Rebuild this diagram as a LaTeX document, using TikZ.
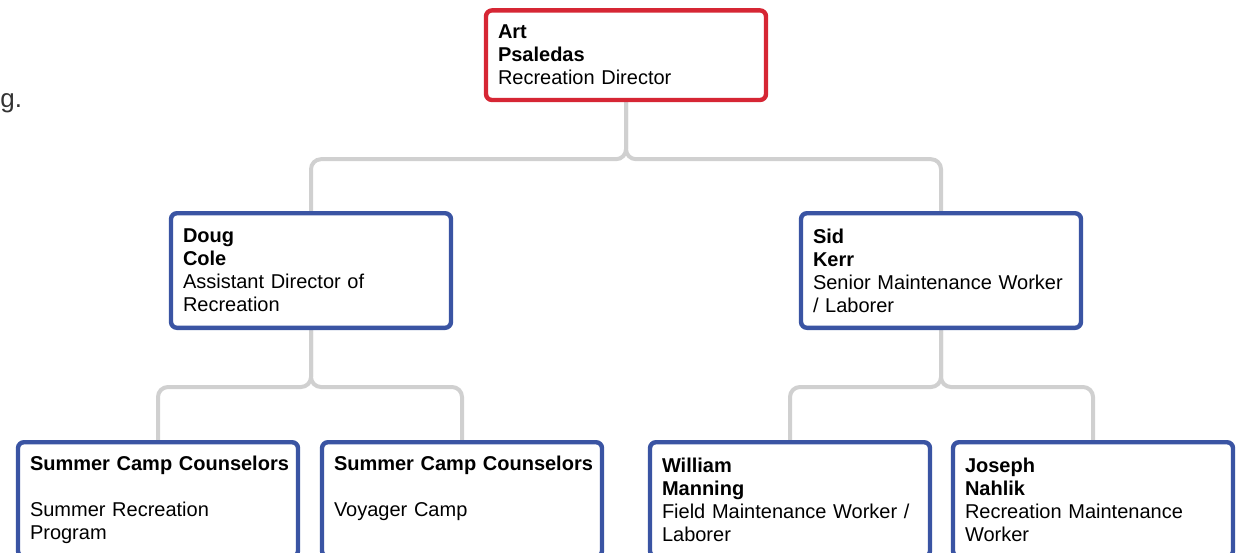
\documentclass[tikz,border=0pt]{standalone}
\usepackage{fontspec}
\setmainfont{Liberation Sans}
\usetikzlibrary{backgrounds}
\definecolor{headRed}{RGB}{214,38,52}
\definecolor{staffBlue}{RGB}{58,84,163}
\definecolor{lineGray}{RGB}{208,208,208}
\definecolor{pageText}{RGB}{51,51,51}

\begin{document}
\begin{tikzpicture}[x=0.5pt, y=-0.5pt,
    box/.style={draw=staffBlue, line width=2.2pt, rounded corners=3pt, fill=white,
        minimum width=140pt, minimum height=57.3pt, text width=128pt, align=left,
        inner sep=0pt, anchor=north, font=\fontsize{10}{11.5}\selectfont},
    headbox/.style={box, draw=headRed, minimum height=44.8pt},
    conn/.style={draw=lineGray, line width=2pt, rounded corners=5pt}]
    \useasboundingbox (0,0) rectangle (1240,552);

    % cut-off page text on the left
    \node[font=\fontsize{13}{13}\selectfont, text=pageText, anchor=base west, inner sep=0pt] (frag) at (0,107) {g.};

    % director
    \node[headbox] (art) at (626,8.2) {\textbf{Art}\\\textbf{Psaledas}\\Recreation Director};

    % second level
    \node[box] (doug) at (311,211) {\textbf{Doug}\\\textbf{Cole}\\Assistant Director of\\Recreation};
    \node[box] (sid) at (941,211) {\textbf{Sid}\\\textbf{Kerr}\\Senior Maintenance Worker\\/ Laborer};

    % third level
    \node[box] (summer) at (158,440) {\mbox{\textbf{Summer Camp Counselors}}\\\mbox{}\\Summer Recreation\\Program};
    \node[box] (voyager) at (462,440) {\mbox{\textbf{Summer Camp Counselors}}\\\mbox{}\\Voyager Camp\\\mbox{\vphantom{g}}};
    \node[box] (william) at (790,440) {\textbf{William}\\\textbf{Manning}\\Field Maintenance Worker /\\Laborer};
    \node[box] (joseph) at (1093,440) {\textbf{Joseph}\\\textbf{Nahlik}\\Recreation Maintenance\\Worker};

    \begin{scope}[on background layer]
        \draw[conn] (art.south) -- ++(0,57) -| (doug.north);
        \draw[conn] (art.south) -- ++(0,57) -| (sid.north);
        \draw[conn] (doug.south) -- ++(0,57) -| (summer.north);
        \draw[conn] (doug.south) -- ++(0,57) -| (voyager.north);
        \draw[conn] (sid.south) -- ++(0,57) -| (william.north);
        \draw[conn] (sid.south) -- ++(0,57) -| (joseph.north);
    \end{scope}
\end{tikzpicture}
\end{document}
